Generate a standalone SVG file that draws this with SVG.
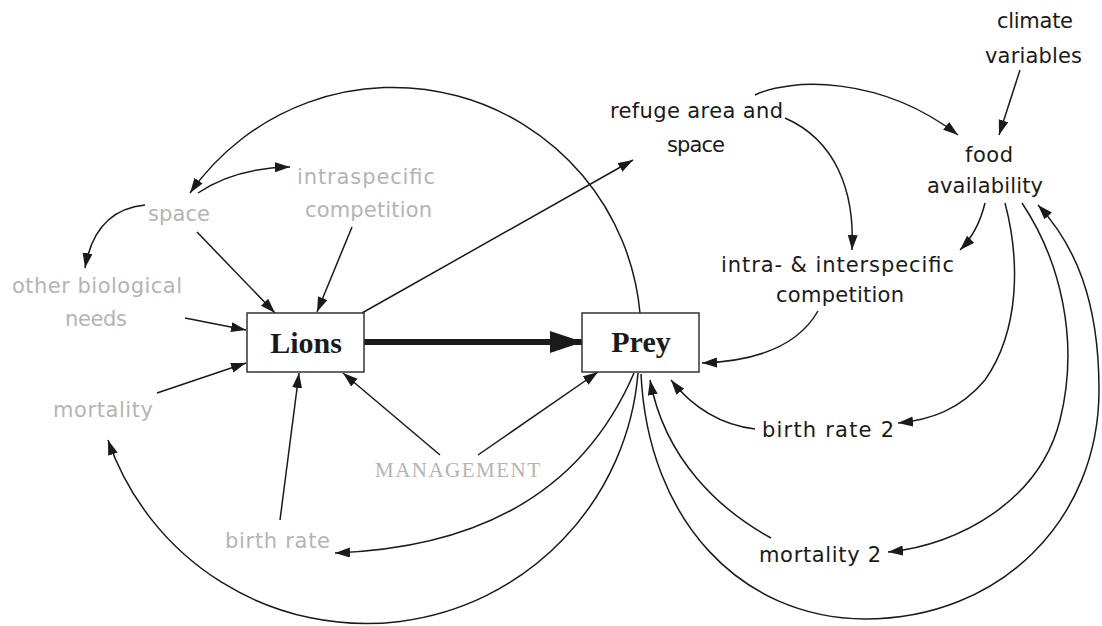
<svg xmlns="http://www.w3.org/2000/svg" width="1102" height="626" viewBox="0 0 1102 626">
<defs>
<marker id="ah" markerUnits="userSpaceOnUse" markerWidth="16" markerHeight="11" refX="15" refY="5" orient="auto">
<path d="M0,0 L15,5 L0,10 z" fill="#1a1a1a"/>
</marker>
<marker id="ahBig" markerUnits="userSpaceOnUse" markerWidth="34" markerHeight="22" refX="33" refY="11" orient="auto">
<path d="M0,0 L33,11 L0,22 z" fill="#1a1a1a"/>
</marker>
</defs>
<style>
.bg{fill:#ffffff}
.c{fill:none;stroke:#1a1a1a;stroke-width:1.5;marker-end:url(#ah)}
.thick{fill:none;stroke:#1a1a1a;stroke-width:6;marker-end:url(#ahBig)}
.box{fill:#ffffff;stroke:#333;stroke-width:1.5}
.bt{font-family:"Liberation Serif",serif;font-weight:bold;font-size:30px;fill:#1a1a1a;text-anchor:middle}
.t{font-family:"DejaVu Sans",sans-serif;font-size:21px;fill:#1a1a1a}
.g{font-family:"DejaVu Sans",sans-serif;font-size:21px;fill:#b4b4b4}
.gs{font-family:"Liberation Serif",serif;font-size:21px;fill:#b4b4b4}
</style>
<rect class="bg" x="0" y="0" width="1102" height="626"/>
<g id="connectors">
<path class="thick" d="M364,342 L583,342"/>
<path class="c" d="M640,313 A248,248 0 0 0 190,193"/>
<path class="c" d="M198,193 Q235,168 290,167"/>
<path class="c" d="M145,205 Q95,210 85,268"/>
<path class="c" d="M197,232 L275,313"/>
<path class="c" d="M352,227 L317,312"/>
<path class="c" d="M185,318 L246,330"/>
<path class="c" d="M157,393 L246,363"/>
<path class="c" d="M280,520 L299,373"/>
<path class="c" d="M440,455 L343,373"/>
<path class="c" d="M478,455 L598,372"/>
<path class="c" d="M362,313 L633,160"/>
<path class="c" d="M634,373 Q560,545 335,553"/>
<path class="c" d="M638,373 A273,273 0 0 1 108,440"/>
<path class="c" d="M641,374 C648,520 740,618 865,619 C1000,619 1099,520 1099,390 C1099,300 1075,245 1038,205"/>
<path class="c" d="M1005,203 C1020,260 1020,330 985,380 C960,410 930,420 898,423"/>
<path class="c" d="M1022,203 C1060,260 1080,340 1060,420 C1040,500 960,545 888,552"/>
<path class="c" d="M1020,70 L999,135"/>
<path class="c" d="M755,95 C790,78 880,75 958,135"/>
<path class="c" d="M785,118 C835,140 855,190 852,250"/>
<path class="c" d="M985,203 Q978,232 960,250"/>
<path class="c" d="M818,311 Q790,360 702,363"/>
<path class="c" d="M755,429 Q705,423 671,380"/>
<path class="c" d="M771,538 C720,510 665,460 650,380"/>
</g>
<g id="lions"><rect class="box" x="247" y="313" width="117" height="59"/><text class="bt" x="306" y="353">Lions</text></g>
<g id="prey"><rect class="box" x="582" y="313" width="117" height="59"/><text class="bt" x="641" y="352">Prey</text></g>
<g id="climate"><text class="t" x="997" y="28" textLength="76">climate</text><text class="t" x="985" y="63" textLength="97">variables</text></g>
<g id="food"><text class="t" x="965" y="162" textLength="48">food</text><text class="t" x="927" y="193" textLength="116">availability</text></g>
<g id="refuge"><text class="t" x="610" y="118" textLength="173">refuge area and</text><text class="t" x="667" y="152" textLength="58">space</text></g>
<g id="interspecific"><text class="t" x="721" y="272" textLength="233">intra- &amp; interspecific</text><text class="t" x="776" y="302" textLength="128">competition</text></g>
<g id="birthrate2"><text class="t" x="762" y="437" textLength="132">birth rate 2</text></g>
<g id="mortality2"><text class="t" x="759" y="562" textLength="122">mortality 2</text></g>
<g id="space"><text class="g" x="148" y="221" textLength="62">space</text></g>
<g id="intraspecific"><text class="g" x="297" y="184" textLength="138">intraspecific</text><text class="g" x="305" y="217" textLength="127">competition</text></g>
<g id="otherneeds"><text class="g" x="12" y="293" textLength="170">other biological</text><text class="g" x="65" y="326" textLength="62">needs</text></g>
<g id="mortality"><text class="g" x="53" y="417" textLength="100">mortality</text></g>
<g id="birthrate"><text class="g" x="225" y="548" textLength="105">birth rate</text></g>
<g id="management"><text class="gs" x="375" y="477" textLength="165">MANAGEMENT</text></g>
</svg>
